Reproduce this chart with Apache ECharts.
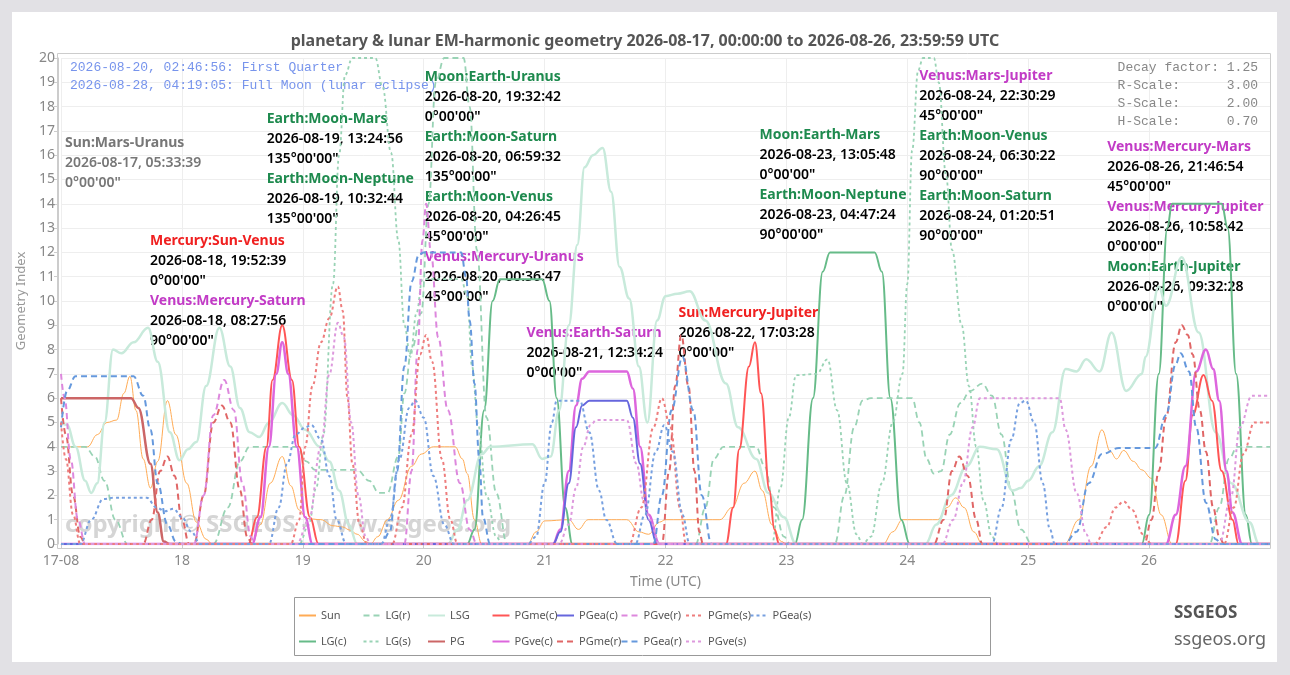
<!DOCTYPE html>
<html>
<head>
<meta charset="utf-8">
<script src="https://cdn.jsdelivr.net/npm/echarts/dist/echarts.min.js"></script>
<style>
html, body { margin: 0; padding: 0; background: #e2e1e5; }
#card { position: absolute; left: 12px; top: 12px; width: 1265px; height: 650px; background: #fff; }
#chart { position: absolute; left: 0; top: 0; width: 1290px; height: 675px; }
</style>
</head>
<body>
<div id="card"></div>
<div id="chart"></div>
<script>
// x = day of August 2026 (decimal), y = geometry index
var xTickLabels = ['17-08', '18', '19', '20', '21', '22', '23', '24', '25', '26'];
var seriesNames = ['Sun', 'LG(c)', 'LG(r)', 'LG(s)', 'LSG', 'PG', 'PGme(c)', 'PGve(c)', 'PGea(c)',
                   'PGme(r)', 'PGve(r)', 'PGea(r)', 'PGme(s)', 'PGve(s)', 'PGea(s)'];

var sunData = [[17,4],[17.22,4],[17.3,4.5],[17.38,5],[17.46,5.1],[17.52,6.2],[17.57,6.9],[17.62,5.5],[17.68,3.5],[17.74,2.3],[17.8,3.4],[17.88,5.9],[17.95,4.5],[18.04,2.5],[18.12,0.9],[18.2,0.2],[18.25,0],[18.58,0],[18.65,0.8],[18.73,2.5],[18.83,3.6],[18.9,2.4],[18.97,1.4],[19.03,1.05],[19.15,1],[19.25,0.75],[19.33,0.7],[19.39,0.57],[19.45,0.4],[19.52,0.1],[19.56,0],[19.62,0.3],[19.7,1],[19.79,1.8],[19.9,3.2],[19.98,3.7],[20.08,4],[20.26,4],[20.32,3.5],[20.36,2.9],[20.42,1],[20.48,0],[20.86,0],[20.93,0.5],[21,0.95],[21.2,1],[21.28,0.6],[21.36,1],[21.68,1],[21.78,0.5],[21.86,0.4],[21.95,0.9],[22,1],[22.45,1],[22.55,1.5],[22.65,2.5],[22.74,3],[22.8,2.2],[22.88,0.8],[22.96,0.1],[23,0],[23.8,0],[23.88,0.5],[23.96,1],[24.25,1],[24.33,1.5],[24.4,1.9],[24.47,1.5],[24.55,0.5],[24.62,0],[25.3,0],[25.42,1],[25.52,3.2],[25.61,4.7],[25.68,3.8],[25.73,3.5],[25.79,3.85],[25.87,3.4],[25.94,3.05],[26.02,2.7],[26.1,1.2],[26.19,0],[27,0]];
var lgCData = [[17,0],[20.36,0],[20.42,0.6],[20.5,5.5],[20.57,10],[20.63,10.9],[20.98,10.9],[21.04,10],[21.1,6],[21.17,1.5],[21.23,0],[23.07,0],[23.13,1],[23.22,6],[23.3,11.2],[23.36,12],[23.73,12],[23.79,11.2],[23.86,6],[23.95,1],[24.02,0],[25.94,0],[26,1.2],[26.08,7],[26.15,13],[26.19,14],[26.6,14],[26.65,13],[26.72,7],[26.8,1.2],[26.85,0],[27,0]];
var lgRData = [[17,4],[17.2,4],[17.28,3.6],[17.36,2.6],[17.45,1],[17.55,0],[18.26,0],[18.38,1.5],[18.48,3.4],[18.56,4],[18.95,4],[19.03,3.4],[19.1,3.05],[19.45,3.05],[19.55,2.6],[19.63,2.1],[19.7,2.1],[19.79,3.6],[19.84,6.2],[19.9,8],[19.98,9.5],[20.04,14],[20.1,19],[20.17,20],[20.33,20],[20.38,18],[20.44,12.1],[20.52,5.2],[20.6,2.1],[20.69,0],[22.25,0],[22.33,1.5],[22.4,3.5],[22.48,4],[22.75,4],[22.82,3.2],[22.9,1.5],[22.98,0.3],[23.03,0],[23.4,0],[23.48,2],[23.56,4.8],[23.63,5.9],[23.7,6],[24.04,6],[24.1,5],[24.16,3.5],[24.22,2.9],[24.28,3],[24.35,4.5],[24.44,5.8],[24.52,6.3],[24.62,6.6],[24.7,6.1],[24.78,4.5],[24.86,2.2],[24.94,0.6],[25.03,0],[26.5,0],[26.58,1.5],[26.66,3.5],[26.73,4],[27,4]];
var lgSData = [[17,0],[18.97,0],[19.05,0.8],[19.11,2.3],[19.17,4.5],[19.25,10.7],[19.3,16],[19.35,19.3],[19.41,20],[19.6,20],[19.66,18.8],[19.73,16.1],[19.79,12.5],[19.84,9],[19.89,7.7],[19.94,9.5],[19.99,10.9],[20.31,10.9],[20.36,10.2],[20.4,7.3],[20.45,4.9],[20.52,2],[20.6,0.3],[20.65,0],[22.88,0],[22.95,2.3],[23.02,5.2],[23.08,6.95],[23.25,7],[23.34,7.6],[23.42,5.5],[23.5,2.5],[23.58,0.4],[23.63,0],[23.7,0.3],[23.79,2.5],[23.88,5],[23.96,7],[24,10.7],[24.04,16.2],[24.09,19.5],[24.13,20],[24.22,20],[24.26,19],[24.32,15.2],[24.37,12.1],[24.45,9],[24.51,6.5],[24.57,4],[24.63,1.8],[24.7,0.3],[24.75,0],[27,0]];
var lsgData = [[17,5],[17.05,4.9],[17.12,4],[17.2,2.6],[17.25,2.1],[17.3,2.5],[17.36,5],[17.43,8],[17.5,7.85],[17.6,8.3],[17.72,8.9],[17.8,7.5],[17.9,4.6],[17.98,3.45],[18.05,3.9],[18.12,4.2],[18.2,6.5],[18.31,8.9],[18.4,7.3],[18.48,5.6],[18.56,4.6],[18.64,4.4],[18.72,5],[18.83,5.8],[18.92,5.3],[19.02,4.7],[19.14,4],[19.22,3.4],[19.3,2.2],[19.38,0.8],[19.45,0],[20.2,0],[20.28,0.6],[20.36,1.8],[20.48,3.7],[20.55,4],[20.9,4.1],[20.98,3.5],[21.05,3.6],[21.12,5.5],[21.2,9],[21.27,12.3],[21.33,15.5],[21.4,16],[21.48,16.3],[21.55,14.5],[21.62,11.4],[21.7,10.1],[21.78,7.3],[21.85,5],[21.93,9.2],[22,10.2],[22.1,10.3],[22.2,10.4],[22.33,9.2],[22.5,6.6],[22.6,4.8],[22.75,3.5],[22.85,2.1],[22.98,1.1],[23.08,0],[24.15,0],[24.24,0.8],[24.36,2],[24.49,3.2],[24.6,4],[24.74,3.9],[24.87,2.2],[24.94,2.3],[25,2.6],[25.09,3.2],[25.2,4.6],[25.31,7.2],[25.4,7.1],[25.48,7.6],[25.59,7.1],[25.69,8.7],[25.81,6.3],[25.94,7],[25.97,7.7],[26.08,10.6],[26.14,9.8],[26.27,11.8],[26.41,8.7],[26.55,4.6],[26.68,2.5],[26.83,0.9],[26.91,0],[27,0]];
var pgData = [[17,6],[17.58,6],[17.64,5.6],[17.74,3.3],[17.8,1.3],[17.85,0.1],[17.9,0],[27,0]];
var pgMeCData = [[17,0],[18.55,0],[18.62,1.1],[18.7,4],[18.75,6.75],[18.83,9],[18.91,6.75],[18.97,4],[19.06,1.1],[19.13,0],[22.5,0],[22.56,1.5],[22.61,3.9],[22.69,7.3],[22.74,8.3],[22.79,6.2],[22.86,2.2],[22.9,0.6],[22.94,0],[26.22,0],[26.3,2.6],[26.36,5.3],[26.45,6.95],[26.52,5.9],[26.6,3],[26.69,1],[26.74,0],[27,0]];
var pgVeCData = [[17,0],[18.58,0],[18.65,1.1],[18.72,4],[18.78,7],[18.83,8.3],[18.88,7],[18.95,4],[19.02,1.1],[19.08,0],[21.07,0],[21.13,0.6],[21.2,3],[21.26,5.7],[21.31,6.8],[21.37,7.1],[21.68,7.1],[21.73,6.4],[21.79,4],[21.86,1.2],[21.95,0],[26.14,0],[26.22,1.2],[26.3,3.2],[26.39,7.1],[26.47,8],[26.53,7.2],[26.58,5.9],[26.64,3],[26.69,1.3],[26.77,0],[27,0]];
var pgEaCData = [[17,0],[21.07,0],[21.13,0.5],[21.2,2.5],[21.26,4.8],[21.31,5.7],[21.37,5.9],[21.68,5.9],[21.73,5.2],[21.79,3.3],[21.86,1],[21.93,0],[27,0]];
var pgMeRData = [[17,6],[17.04,4.5],[17.1,2],[17.16,0.3],[17.2,0],[17.68,0],[17.75,1],[17.82,3],[17.88,3.6],[17.94,2.8],[18,1],[18.06,0],[18.1,0],[18.18,2],[18.26,5],[18.33,5.7],[18.4,5],[18.48,2.2],[18.54,0.3],[18.58,0],[21.97,0],[22.03,3],[22.08,6.5],[22.13,8.6],[22.19,6.5],[22.24,3],[22.28,0.5],[22.31,0],[24.22,0],[24.3,1],[24.37,3],[24.43,3.6],[24.5,2.8],[24.57,1],[24.62,0],[25.96,0],[26.02,1],[26.08,3],[26.14,5.2],[26.22,8.3],[26.27,9],[26.32,8.6],[26.36,7.8],[26.42,5.5],[26.47,3.8],[26.53,1.5],[26.58,0.3],[26.62,0],[27,0]];
var pgVeRData = [[17,7],[17.03,6],[17.08,3.5],[17.14,1],[17.2,0],[18.1,0],[18.18,2],[18.26,5.3],[18.35,6.75],[18.43,5.5],[18.5,2.5],[18.57,0.3],[18.6,0],[19.84,0],[19.9,3],[19.95,8],[19.99,12.5],[20.02,14],[20.06,12],[20.12,8.5],[20.2,5.5],[20.3,2.5],[20.38,0.6],[20.44,0],[27,0]];
var pgEaRData = [[17,4.8],[17.05,6.3],[17.12,6.9],[17.6,6.9],[17.68,6.1],[17.74,4.7],[17.8,2.5],[17.88,0.8],[17.95,0.1],[18,0],[19.65,0],[19.72,0.5],[19.78,3],[19.84,7.3],[19.9,10.8],[19.96,11.9],[20,12],[20.31,12],[20.35,11],[20.38,9.2],[20.42,6.6],[20.46,3.5],[20.49,1.1],[20.55,0],[21.9,0],[21.97,2],[22.05,5.5],[22.14,7.7],[22.23,5.5],[22.3,2],[22.38,0],[25.3,0],[25.4,0.5],[25.5,2.5],[25.61,3.7],[25.75,3.95],[26.05,3.95],[26.14,5.3],[26.22,7.4],[26.26,7.85],[26.33,7.1],[26.39,4.8],[26.47,1.7],[26.55,0.2],[26.6,0],[27,0]];
var pgMeSData = [[17,5],[17.04,3.5],[17.1,1.2],[17.16,0],[18.9,0],[18.97,1],[19.02,4],[19.08,6.5],[19.15,8.3],[19.22,9.3],[19.29,10.6],[19.33,9.6],[19.37,6],[19.41,3.3],[19.47,0.8],[19.53,0],[19.74,0],[19.82,1.5],[19.9,4.5],[19.97,7.8],[20.02,8.6],[20.07,7.5],[20.15,3.5],[20.22,1],[20.28,0],[21.7,0],[21.8,1.5],[21.9,4.8],[21.97,6],[22.04,4.8],[22.12,1.5],[22.17,0],[25.55,0],[25.65,0.7],[25.72,1.5],[25.79,1.75],[25.86,1.4],[25.95,0.4],[26.02,0],[26.62,0],[26.7,1.5],[26.78,3.7],[26.87,5],[27,5]];
var pgVeSData = [[17,0],[18.95,0],[19.05,1],[19.15,4],[19.22,7],[19.29,9.1],[19.34,8.5],[19.4,5],[19.46,2],[19.52,0.3],[19.56,0],[21.12,0],[21.2,0.8],[21.26,2.3],[21.32,4],[21.38,4.9],[21.43,5.1],[21.68,5.1],[21.76,3.3],[21.82,1.8],[21.87,1],[21.95,0],[24.29,0],[24.38,1],[24.46,2.5],[24.54,4.8],[24.6,6],[25.26,6],[25.31,4.7],[25.4,2.1],[25.48,0.4],[25.52,0],[26.58,0],[26.68,2],[26.75,4.8],[26.85,6.1],[27,6.1]];
var pgEaSData = [[17,0],[17.16,0],[17.25,1],[17.35,1.85],[17.43,1.9],[17.71,1.9],[17.79,1.5],[17.86,1.35],[17.93,1.45],[18,1.1],[18.08,0.5],[18.15,0],[18.72,0],[18.8,1.5],[18.87,3.3],[18.94,4.5],[19.02,4.8],[19.07,4.9],[19.15,4.3],[19.22,2.8],[19.28,1],[19.36,0],[19.65,0],[19.72,1],[19.8,3.5],[19.88,5.6],[19.93,5.9],[20,5.2],[20.08,2.8],[20.17,0.8],[20.25,0],[20.86,0],[20.93,0.3],[21,2.5],[21.06,5],[21.1,5.9],[21.29,5.9],[21.37,4.6],[21.45,2.2],[21.51,1],[21.6,0],[21.75,0],[21.83,1.2],[21.92,3.8],[21.99,4.9],[22.06,3.8],[22.14,1.2],[22.2,0],[24.7,0],[24.78,1.5],[24.86,4.3],[24.93,5.8],[24.98,5.9],[25.05,5],[25.12,2.5],[25.18,0.6],[25.22,0],[27,0]];

var seriesData = [sunData, lgCData, lgRData, lgSData, lsgData, pgData, pgMeCData, pgVeCData, pgEaCData,
                  pgMeRData, pgVeRData, pgEaRData, pgMeSData, pgVeSData, pgEaSData];

// event annotations: anchor = [day, index] of the first line
var green = '#1e8a4e', red = '#f02020', magenta = '#c23bc6', grey = '#777777';
var annotations = [
  { at: [17.033, 16.5], body: grey, items: [['Sun:Mars-Uranus', grey, '2026-08-17, 05:33:39', '0°00\'00"']] },
  { at: [18.702, 17.49], body: '#000', items: [
      ['Earth:Moon-Mars', green, '2026-08-19, 13:24:56', '135°00\'00"'],
      ['Earth:Moon-Neptune', green, '2026-08-19, 10:32:44', '135°00\'00"']] },
  { at: [17.736, 12.47], body: '#000', items: [
      ['Mercury:Sun-Venus', red, '2026-08-18, 19:52:39', '0°00\'00"'],
      ['Venus:Mercury-Saturn', magenta, '2026-08-18, 08:27:56', '90°00\'00"']] },
  { at: [20.008, 19.22], body: '#000', items: [
      ['Moon:Earth-Uranus', green, '2026-08-20, 19:32:42', '0°00\'00"'],
      ['Earth:Moon-Saturn', green, '2026-08-20, 06:59:32', '135°00\'00"'],
      ['Earth:Moon-Venus', green, '2026-08-20, 04:26:45', '45°00\'00"'],
      ['Venus:Mercury-Uranus', magenta, '2026-08-20, 00:36:47', '45°00\'00"']] },
  { at: [20.851, 8.68], body: '#000', items: [['Venus:Earth-Saturn', magenta, '2026-08-21, 12:34:24', '0°00\'00"']] },
  { at: [22.107, 9.51], body: '#000', items: [['Sun:Mercury-Jupiter', red, '2026-08-22, 17:03:28', '0°00\'00"']] },
  { at: [22.777, 16.83], body: '#000', items: [
      ['Moon:Earth-Mars', green, '2026-08-23, 13:05:48', '0°00\'00"'],
      ['Earth:Moon-Neptune', green, '2026-08-23, 04:47:24', '90°00\'00"']] },
  { at: [24.099, 19.26], body: '#000', items: [
      ['Venus:Mars-Jupiter', magenta, '2026-08-24, 22:30:29', '45°00\'00"'],
      ['Earth:Moon-Venus', green, '2026-08-24, 06:30:22', '90°00\'00"'],
      ['Earth:Moon-Saturn', green, '2026-08-24, 01:20:51', '90°00\'00"']] },
  { at: [25.653, 16.34], body: '#000', items: [
      ['Venus:Mercury-Mars', magenta, '2026-08-26, 21:46:54', '45°00\'00"'],
      ['Venus:Mercury-Jupiter', magenta, '2026-08-26, 10:58:42', '0°00\'00"'],
      ['Moon:Earth-Jupiter', green, '2026-08-26, 09:32:28', '0°00\'00"']] }
];
var moonPhases = ['2026-08-20, 02:46:56: First Quarter', '2026-08-28, 04:19:05: Full Moon (lunar eclipse)'];
var scaleInfo = ['Decay factor: 1.25', 'R-Scale:      3.00', 'S-Scale:      2.00', 'H-Scale:      0.70'];

var lineLook = {
  'Sun':     { color: '#ffab55', width: 1,   type: 'solid' },
  'LG(c)':   { color: '#66bb88', width: 2,   type: 'solid' },
  'LG(r)':   { color: '#99d3b5', width: 1.8, type: [6, 4] },
  'LG(s)':   { color: '#99d3b5', width: 1.8, type: [3, 3] },
  'LSG':     { color: '#c8eadb', width: 2.5, type: 'solid' },
  'PG':      { color: '#cc6666', width: 2.5, type: 'solid' },
  'PGme(c)': { color: '#ff5555', width: 2,   type: 'solid' },
  'PGve(c)': { color: '#dd66dd', width: 2.5, type: 'solid' },
  'PGea(c)': { color: '#6666dd', width: 2,   type: 'solid' },
  'PGme(r)': { color: '#e06666', width: 2,   type: [6, 4] },
  'PGve(r)': { color: '#dd88dd', width: 2,   type: [6, 4] },
  'PGea(r)': { color: '#6699dd', width: 2,   type: [6, 4] },
  'PGme(s)': { color: '#ee7d7d', width: 2,   type: [3, 3] },
  'PGve(s)': { color: '#dd99dd', width: 2,   type: [3, 3] },
  'PGea(s)': { color: '#77a0e0', width: 2,   type: [3, 3] }
};

var chart = echarts.init(document.getElementById('chart'));

var series = seriesNames.map(function (name, i) {
  var s = lineLook[name];
  return {
    name: name, type: 'line', data: seriesData[i],
    symbol: 'none', showSymbol: false, smooth: 0.4, smoothMonotone: 'x',
    lineStyle: { color: s.color, width: s.width, type: s.type },
    itemStyle: { color: s.color },
    emphasis: { disabled: true }
  };
});

var legends = seriesNames.map(function (name, i) {
  return {
    data: [name], left: 298 + Math.floor(i / 2) * 64.5, top: (i % 2) ? 636 : 610,
    padding: 0, itemWidth: 17, itemHeight: 10, selectedMode: false,
    itemStyle: { opacity: 0 },
    textStyle: { color: '#555', fontSize: 11, fontFamily: 'Noto Sans' }
  };
});

var option = {
  animation: false,
  title: {
    text: 'planetary & lunar EM-harmonic geometry 2026-08-17, 00:00:00 to 2026-08-26, 23:59:59 UTC',
    left: 'center', top: 28,
    textStyle: { color: '#555', fontSize: 16, fontWeight: 'bold', fontFamily: 'Noto Sans' }
  },
  legend: legends,
  grid: { left: 61, right: 20, top: 58, bottom: 131 },
  xAxis: {
    type: 'value', min: 17, max: 27, interval: 1, offset: 4,
    name: 'Time (UTC)', nameLocation: 'middle', nameGap: 27,
    nameTextStyle: { color: '#888', fontSize: 14, fontFamily: 'Noto Sans' },
    axisLine: { show: true, lineStyle: { color: '#cccccc' } },
    axisTick: { show: true, length: 5, lineStyle: { color: '#cccccc' } },
    axisLabel: {
      color: '#888', fontSize: 14, fontFamily: 'Noto Sans', margin: 6, showMaxLabel: false,
      formatter: function (v) { return xTickLabels[Math.round(v) - 17] || ''; }
    },
    splitLine: { show: true, lineStyle: { color: '#eeeeee' } }
  },
  yAxis: {
    type: 'value', min: 0, max: 20, interval: 1, offset: 3,
    name: 'Geometry Index', nameLocation: 'middle', nameGap: 27, nameRotate: 90,
    nameTextStyle: { color: '#999', fontSize: 13, fontFamily: 'Noto Sans' },
    axisLine: { show: true, lineStyle: { color: '#cccccc' } },
    axisTick: { show: true, length: 4, lineStyle: { color: '#cccccc' } },
    axisLabel: { color: '#888', fontSize: 14, fontFamily: 'Noto Sans', margin: 3 },
    splitLine: { show: true, lineStyle: { color: '#eeeeee' } }
  },
  series: series
};
chart.setOption(option);

// overlay texts and frames
var g = [];
g.push({ type: 'rect', silent: true, z: 1, shape: { x: 57.5, y: 53.5, width: 1213, height: 495 },
         style: { fill: 'none', stroke: '#cccccc', lineWidth: 1 } });
g.push({ type: 'rect', silent: true, z: 1, shape: { x: 294.5, y: 597.5, width: 696, height: 58 },
         style: { fill: 'none', stroke: '#999999', lineWidth: 1 } });
g.push({ type: 'text', silent: true, z: 1, style: {
  text: 'copyright© SSGEOS - www.ssgeos.org', x: 65, y: 525, verticalAlign: 'middle',
  font: 'bold 24px "Noto Sans"', fill: 'rgba(150,150,150,0.4)' } });
moonPhases.forEach(function (t, i) {
  g.push({ type: 'text', silent: true, z: 1, style: { text: t, x: 70, y: 68 + i * 18, verticalAlign: 'middle',
    font: '13px "Liberation Mono"', fill: '#7794ec' } });
});
scaleInfo.forEach(function (t, i) {
  g.push({ type: 'text', silent: true, z: 1, style: { text: t, x: 1258, y: 68 + i * 18, align: 'right',
    verticalAlign: 'middle', font: '13px "Liberation Mono"', fill: '#888888' } });
});
g.push({ type: 'text', silent: true, style: { text: 'SSGEOS', x: 1174, y: 613, verticalAlign: 'middle',
  font: 'bold 17px "Noto Sans"', fill: '#555555' } });
g.push({ type: 'text', silent: true, style: { text: 'ssgeos.org', x: 1174, y: 640, verticalAlign: 'middle',
  font: '18px "Noto Sans"', fill: '#666666' } });

annotations.forEach(function (a) {
  var p = chart.convertToPixel({ xAxisIndex: 0, yAxisIndex: 0 }, a.at);
  var row = 0;
  a.items.forEach(function (it) {
    var lines = [[it[0], it[1], 'bold'], [it[2], a.body, '600'], [it[3], a.body, '600']];
    lines.forEach(function (l) {
      g.push({ type: 'text', silent: true, z: 1, style: {
        text: l[0], x: p[0], y: p[1] + row * 20, verticalAlign: 'middle',
        font: l[2] + ' 14px "Noto Sans"', fill: l[1] } });
      row++;
    });
  });
});

chart.setOption({ graphic: { elements: g } });
</script>
</body>
</html>
